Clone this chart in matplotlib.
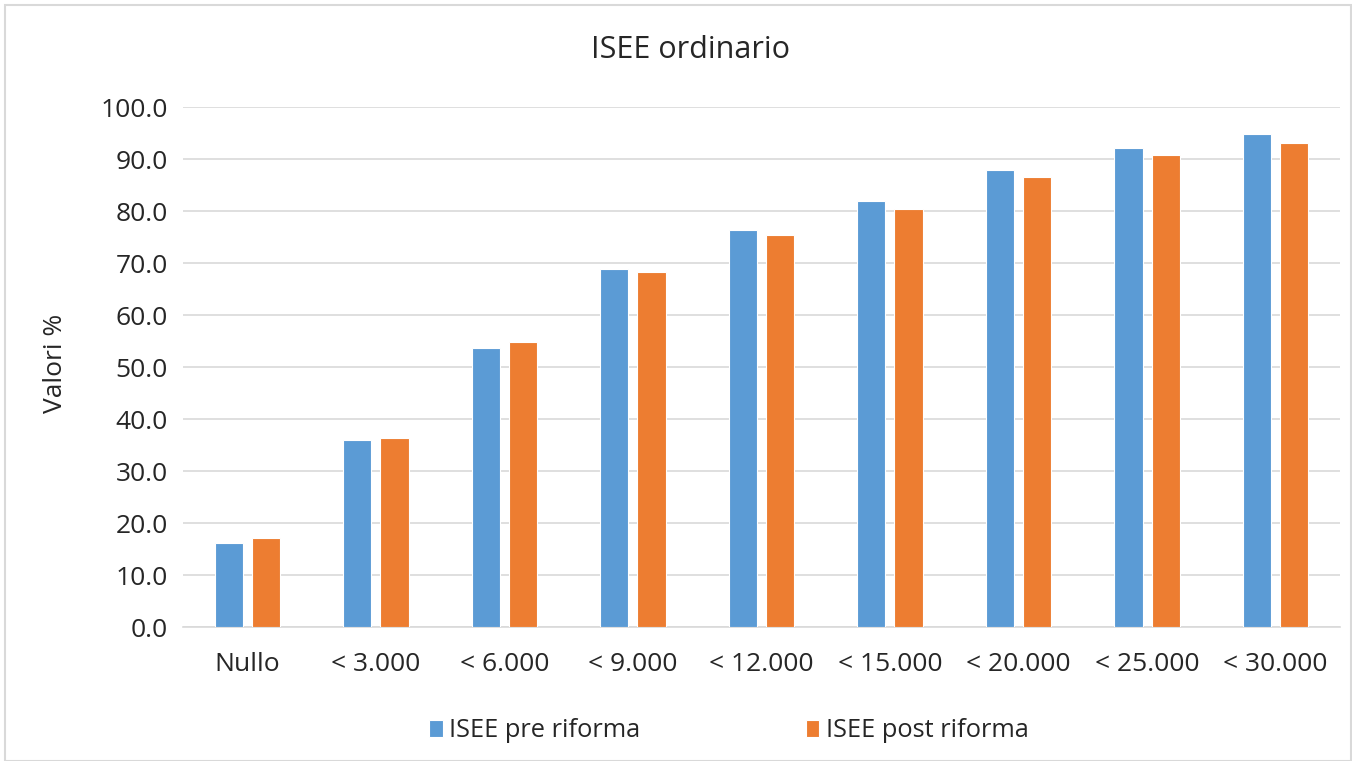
import numpy as np
import matplotlib
matplotlib.use("Agg")
import matplotlib.pyplot as plt
from matplotlib.patches import Rectangle

categories = ["Nullo", "< 3.000", "< 6.000", "< 9.000", "< 12.000",
              "< 15.000", "< 20.000", "< 25.000", "< 30.000"]
pre_riforma = [16.1, 35.9, 53.7, 68.8, 76.4, 81.9, 88.0, 92.2, 94.9]
post_riforma = [17.1, 36.3, 54.8, 68.3, 75.5, 80.4, 86.6, 90.8, 93.2]
yticks = [0, 10, 20, 30, 40, 50, 60, 70, 80, 90, 100]

BLUE = "#5B9BD5"
ORANGE = "#ED7D31"
GRID = "#d9d9d9"
TEXT = "#262626"

plt.rcParams["font.family"] = ["Open Sans", "DejaVu Sans"]


def main():
    fig = plt.figure(figsize=(13.52, 7.61), dpi=100)
    ax = fig.add_axes([0.1354, 0.176, 0.8556, 0.683])

    x = np.arange(len(categories))
    width = 0.22
    ax.bar(x - 0.145, pre_riforma, width, color=BLUE, edgecolor="white",
           linewidth=0.8, label="ISEE pre riforma", zorder=3)
    ax.bar(x + 0.145, post_riforma, width, color=ORANGE, edgecolor="white",
           linewidth=0.8, label="ISEE post riforma", zorder=3)

    ax.set_xlim(-0.5, len(categories) - 0.5)
    ax.set_ylim(0, 100)
    ax.set_yticks(yticks)
    ax.set_yticklabels([f"{v:.1f}" for v in yticks])
    ax.set_xticks(x)
    ax.set_xticklabels(categories)
    ax.tick_params(axis="both", length=0, labelsize=19, colors=TEXT)
    ax.tick_params(axis="x", pad=18)
    ax.tick_params(axis="y", pad=11)
    ax.yaxis.grid(True, color=GRID, linewidth=1.2, zorder=0)
    for side in ["top", "right", "left"]:
        ax.spines[side].set_visible(False)
    ax.spines["bottom"].set_color(GRID)
    ax.spines["bottom"].set_linewidth(1.2)

    fig.text(0.041, 0.522, "Valori %", fontsize=19, color=TEXT,
             rotation=90, ha="center", va="center")
    fig.text(0.511, 0.934, "ISEE ordinario", fontsize=22, color=TEXT,
             ha="center", va="center")

    fig.legend(loc="center", bbox_to_anchor=(0.539, 0.040), ncol=2,
               frameon=False, fontsize=18.3, handlelength=0.55,
               handleheight=0.65, handletextpad=0.25, columnspacing=6.5,
               labelcolor=TEXT)

    fig.patches.append(Rectangle((0.004, 0.0), 0.995, 0.993,
                                 transform=fig.transFigure, fill=False,
                                 edgecolor=GRID, linewidth=1.5))

    fig.savefig("out.png", dpi=100)


if __name__ == "__main__":
    main()
